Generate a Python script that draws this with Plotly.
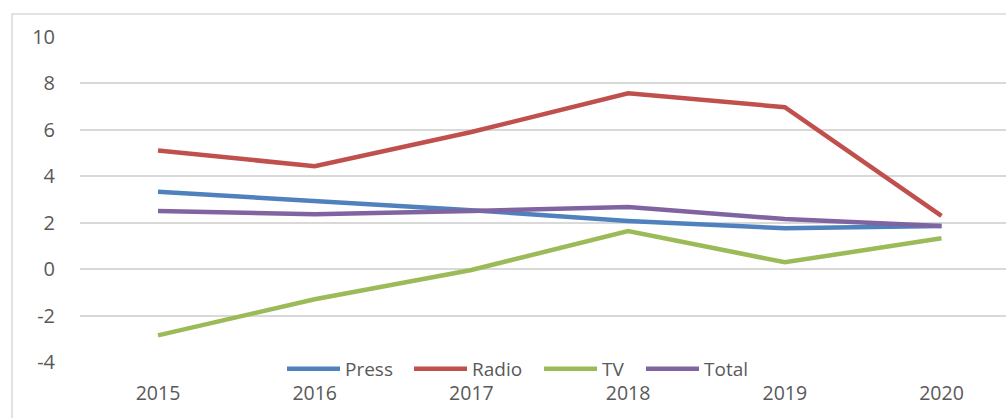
import plotly.graph_objects as go

years = ["2015", "2016", "2017", "2018", "2019", "2020"]
press = [3.33, 2.94, 2.54, 2.08, 1.76, 1.86]
radio = [5.11, 4.43, 5.90, 7.57, 6.97, 2.30]
tv = [-2.84, -1.29, -0.03, 1.64, 0.30, 1.33]
total = [2.51, 2.37, 2.51, 2.68, 2.16, 1.86]

y_tick_vals = [-4, -2, 0, 2, 4, 6, 8, 10]
y_tick_text = ["-4", "-2", "0", "2", "4", "6", "8", "10"]

series = [("Press", press, "#4F81BD"), ("Radio", radio, "#C0504D"),
          ("TV", tv, "#9BBB59"), ("Total", total, "#8064A2")]
legend_left_px = [282, 409, 539, 641]

FONT = "Open Sans, Liberation Sans, sans-serif"
W, H = 1006, 418
L, R, T, B = 80, 0, 36, 55.3
plot_w = W - L - R
plot_h = H - T - B

fig = go.Figure()
legend_layouts = {}
for i, (name, vals, col) in enumerate(series):
    key = "legend" if i == 0 else f"legend{i + 1}"
    fig.add_trace(go.Scatter(x=years, y=vals, name=name, mode="lines",
                             line=dict(color=col, width=4.5), legend=key))
    legend_layouts[key] = dict(
        orientation="h", x=(legend_left_px[i] - L) / plot_w, xanchor="left",
        y=-(368.5 - (H - B)) / plot_h, yanchor="middle",
        bgcolor="rgba(0,0,0,0)", font=dict(size=19, color="#595959", family=FONT),
        itemwidth=53)

px_per_cat = 156.7
r0 = -(158 - L) / px_per_cat
r1 = r0 + plot_w / px_per_cat

fig.update_layout(
    width=W, height=H,
    margin=dict(l=L, r=R, t=T, b=B, pad=0),
    paper_bgcolor="white", plot_bgcolor="white",
    font=dict(family=FONT, size=20, color="#595959"),
    showlegend=True,
    xaxis=dict(type="category", range=[r0, r1], showgrid=False, zeroline=False,
               showline=False, ticks="outside", ticklen=13, tickcolor="rgba(0,0,0,0)",
               tickfont=dict(size=19.5, color="#595959")),
    yaxis=dict(range=[-4.03, 10.03], tickmode="array", tickvals=y_tick_vals,
               ticktext=y_tick_text, showgrid=True,
               gridcolor="#D9D9D9", gridwidth=1.5, zeroline=False, showline=False,
               ticks="outside", ticklen=20, tickcolor="rgba(0,0,0,0)",
               tickfont=dict(size=20, color="#595959")),
    shapes=[dict(type="rect", xref="paper", yref="paper",
                 x0=(12 - L) / plot_w, x1=1.2,
                 y0=-0.5, y1=((H - B) - 14) / plot_h,
                 line=dict(color="#D9D9D9", width=1.5), layer="below")],
    **legend_layouts,
)

fig.write_html("out.html", config={"displayModeBar": False},
               post_script="document.body.style.margin='0';document.body.style.overflow='hidden';")
